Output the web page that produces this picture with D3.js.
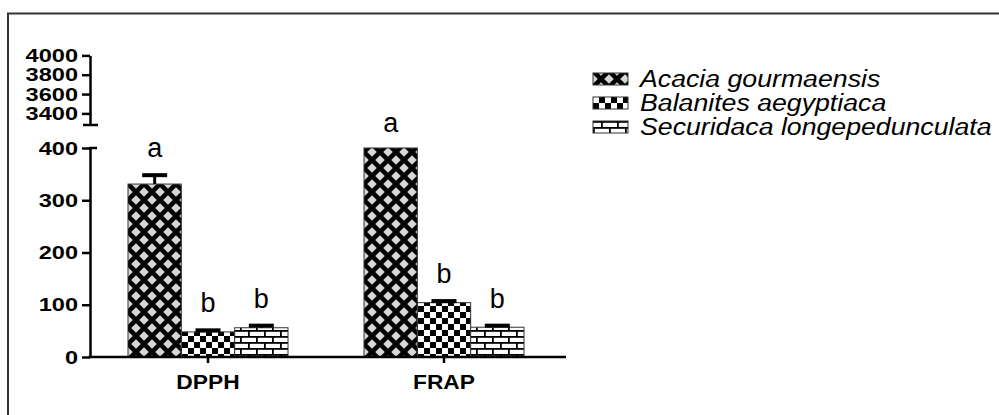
<!DOCTYPE html>
<html><head><meta charset="utf-8">
<script src="https://cdn.jsdelivr.net/npm/d3@7"></script>
<style>body{margin:0;background:#fff} svg{display:block}</style>
</head><body><svg id="c" width="999" height="415"></svg>
<script>
const categories = ["DPPH", "FRAP"];
const series = ["Acacia gourmaensis", "Balanites aegyptiaca", "Securidaca longepedunculata"];
const acaciaValues = [331, 400];
const balanitesValues = [48, 104];
const securidacaValues = [56, 57];
const acaciaErrors = [17, 0];
const balanitesErrors = [3, 3];
const securidacaErrors = [4, 3];
const acaciaLetters = ["a", "a"];
const balanitesLetters = ["b", "b"];
const securidacaLetters = ["b", "b"];
const lowTicks = [0, 100, 200, 300, 400];
const highTicks = [3400, 3600, 3800, 4000];

const FONT = "'Liberation Sans', Arial, Helvetica, sans-serif";
const svg = d3.select("#c");

function stretch(sel, k) {
  sel.each(function () {
    const L = this.getComputedTextLength();
    this.setAttribute("textLength", L * k);
    this.setAttribute("lengthAdjust", "spacingAndGlyphs");
  });
}

// frame
svg.append("path").attr("d", "M8,415V13.5H999").attr("fill", "none")
  .attr("stroke", "#333").attr("stroke-width", 2);

// patterns
const defs = svg.append("defs");
const pA = defs.append("pattern").attr("id", "pA").attr("patternUnits", "userSpaceOnUse")
  .attr("width", 16).attr("height", 16);
pA.append("rect").attr("width", 16).attr("height", 16).attr("fill", "#000");
[[8, 8], [0, 0], [16, 0], [0, 16], [16, 16]].forEach(([cx, cy]) => {
  const r = 4.8;
  pA.append("polygon").attr("points", `${cx},${cy - r} ${cx + r},${cy} ${cx},${cy + r} ${cx - r},${cy}`)
    .attr("fill", "#d6d6d6");
});
const pB = defs.append("pattern").attr("id", "pB").attr("patternUnits", "userSpaceOnUse")
  .attr("width", 12).attr("height", 12);
pB.append("rect").attr("width", 12).attr("height", 12).attr("fill", "#fff");
pB.append("rect").attr("width", 6).attr("height", 6).attr("fill", "#000");
pB.append("rect").attr("x", 6).attr("y", 6).attr("width", 6).attr("height", 6).attr("fill", "#000");
const pC = defs.append("pattern").attr("id", "pC").attr("patternUnits", "userSpaceOnUse")
  .attr("width", 16).attr("height", 12);
pC.append("rect").attr("width", 16).attr("height", 12).attr("fill", "#fff");
pC.append("rect").attr("y", 0).attr("width", 16).attr("height", 1.8).attr("fill", "#000");
pC.append("rect").attr("y", 6).attr("width", 16).attr("height", 1.8).attr("fill", "#000");
pC.append("rect").attr("x", 0).attr("y", 0).attr("width", 1.8).attr("height", 6).attr("fill", "#000");
pC.append("rect").attr("x", 8).attr("y", 6).attr("width", 1.8).attr("height", 6).attr("fill", "#000");
const fills = ["url(#pA)", "url(#pB)", "url(#pC)"];

// scales
const yLow = d3.scaleLinear().domain([0, 400]).range([357, 148]);
const yHigh = d3.scaleLinear().domain([3280, 4000]).range([125, 55.4]);
const x = d3.scaleBand().domain(categories).range([90, 562]).paddingInner(0.322).paddingOuter(0.161);
const xs = d3.scaleBand().domain(series).range([0, x.bandwidth()]);

const rows = categories.map((c, i) => ({
  cat: c,
  items: [
    { s: series[0], v: acaciaValues[i], e: acaciaErrors[i], l: acaciaLetters[i], f: fills[0] },
    { s: series[1], v: balanitesValues[i], e: balanitesErrors[i], l: balanitesLetters[i], f: fills[1] },
    { s: series[2], v: securidacaValues[i], e: securidacaErrors[i], l: securidacaLetters[i], f: fills[2] }
  ]
}));

// bars
const g = svg.append("g");
const groups = g.selectAll("g.grp").data(rows).join("g").attr("class", "grp")
  .attr("transform", d => `translate(${x(d.cat)},0)`);
groups.selectAll("rect.bar").data(d => d.items).join("rect").attr("class", "bar")
  .attr("x", d => xs(d.s)).attr("width", xs.bandwidth())
  .attr("y", d => yLow(d.v)).attr("height", d => yLow(0) - yLow(d.v))
  .attr("fill", d => d.f).attr("stroke", "#333").attr("stroke-width", 1);
// error bars
const eb = groups.selectAll("g.err").data(d => d.items.filter(it => it.e > 0)).join("g").attr("class", "err");
eb.append("line")
  .attr("x1", d => xs(d.s) + xs.bandwidth() / 2).attr("x2", d => xs(d.s) + xs.bandwidth() / 2)
  .attr("y1", d => yLow(d.v)).attr("y2", d => yLow(d.v + d.e))
  .attr("stroke", "#000").attr("stroke-width", 3);
eb.append("line")
  .attr("x1", d => xs(d.s) + xs.bandwidth() / 2 - 12.5).attr("x2", d => xs(d.s) + xs.bandwidth() / 2 + 12.5)
  .attr("y1", d => yLow(d.v + d.e)).attr("y2", d => yLow(d.v + d.e))
  .attr("stroke", "#000").attr("stroke-width", 4);
// letters
groups.selectAll("text.let").data(d => d.items).join("text").attr("class", "let")
  .attr("x", d => xs(d.s) + xs.bandwidth() / 2)
  .attr("y", d => yLow(d.v + d.e) - (d.e > 0 ? 2 : 0) - 16)
  .attr("text-anchor", "middle").attr("font-family", FONT).attr("font-size", 27)
  .text(d => d.l);

// y axes
function styleAxis(a) {
  a.selectAll("path.domain").attr("stroke", "#000").attr("stroke-width", 2.5);
  a.selectAll(".tick line").attr("stroke", "#000").attr("stroke-width", 2.5);
  a.selectAll(".tick text").attr("font-family", FONT).attr("font-size", 19)
    .attr("font-weight", "bold").attr("fill", "#000");
}
const fmt = d3.format("d");
const axL = svg.append("g").attr("transform", "translate(90,0)")
  .call(d3.axisLeft(yLow).tickValues(lowTicks).tickFormat(fmt).tickSize(8).tickPadding(4).tickSizeOuter(0));
styleAxis(axL);
const axH = svg.append("g").attr("transform", "translate(90,0)")
  .call(d3.axisLeft(yHigh).tickValues(highTicks).tickFormat(fmt).tickSize(8).tickPadding(4).tickSizeOuter(0));
styleAxis(axH);
stretch(axL.selectAll(".tick text"), 1.24);
stretch(axH.selectAll(".tick text"), 1.24);
// break caps
svg.append("line").attr("x1", 83).attr("x2", 98).attr("y1", yHigh.range()[0]).attr("y2", yHigh.range()[0])
  .attr("stroke", "#000").attr("stroke-width", 2.5);
svg.append("line").attr("x1", 89).attr("x2", 97).attr("y1", yLow(400)).attr("y2", yLow(400))
  .attr("stroke", "#000").attr("stroke-width", 2.5);

// x axis
const axX = svg.append("g").attr("transform", `translate(0,${yLow(0)})`)
  .call(d3.axisBottom(x).tickSize(6).tickSizeOuter(0));
axX.select("path.domain").attr("d", "M88.75,0H566").attr("stroke", "#000").attr("stroke-width", 2.5);
axX.selectAll(".tick line").attr("stroke", "#000").attr("stroke-width", 2.5);
const xt = axX.selectAll(".tick text").attr("y", 32).attr("dy", 0)
  .attr("font-family", FONT).attr("font-size", 20).attr("font-weight", "bold").attr("fill", "#000");
stretch(xt, 1.14);

// legend
const lg = svg.append("g");
const li = lg.selectAll("g").data(series).join("g")
  .attr("transform", (d, i) => `translate(593,${79 + i * 24})`);
li.append("rect").attr("x", 0).attr("y", -6).attr("width", 35).attr("height", 12)
  .attr("fill", (d, i) => fills[i]).attr("stroke", "#333").attr("stroke-width", 1);
const lt = li.append("text").attr("x", 47).attr("y", 8)
  .attr("font-family", FONT).attr("font-size", 23).attr("font-style", "italic").attr("fill", "#000")
  .text(d => d);
stretch(lt, 1.16);
</script></body></html>
